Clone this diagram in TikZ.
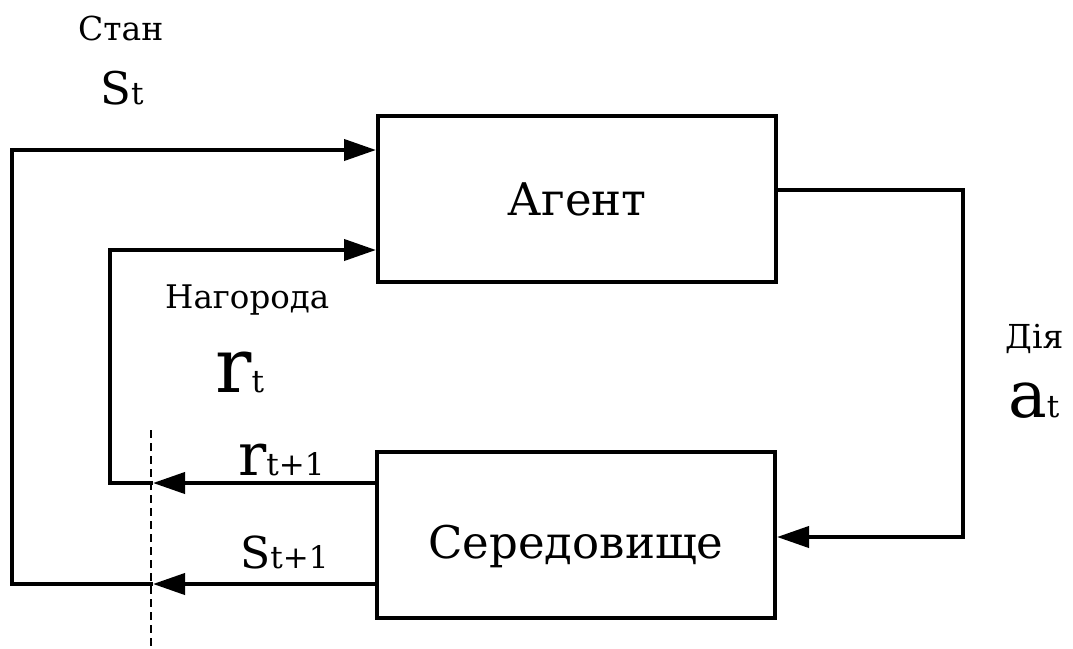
\documentclass[tikz,border=0pt]{standalone}
\usepackage{fontspec}
\setmainfont{DejaVu Serif}
\usetikzlibrary{arrows.meta, positioning, calc}

% letter with a small index set on the same baseline
\newcommand{\symlbl}[3]{{\fontsize{#1}{#1}\selectfont #2}{\fontsize{31}{31}\selectfont #3}}

\tikzset{
  blk/.style={draw=black, line width=4pt, minimum width=398pt, minimum height=166pt,
              inner sep=0pt, text depth=0pt, font=\fontsize{45}{48}\selectfont},
  fl/.style={-{Triangle[length=32pt, width=21pt]}, line width=4pt, draw=black},
  lbl/.style={inner sep=0pt, anchor=base west, font=\fontsize{33}{36}\selectfont},
  cutline/.style={line width=1.2pt, dash pattern=on 8pt off 5pt},
}

\begin{document}
\begin{tikzpicture}[x=1pt, y=-1pt]
  \useasboundingbox (0,0) rectangle (1073,648);

  % the two blocks
  \node[blk] (agent) at (577,199) {Агент};
  \node[blk, text height=47pt] (env) at (576,535) {Середовище};

  % cut points on the dashed line
  \coordinate (cut-top) at (151,430);
  \coordinate (cut-bot) at (151,648);
  \coordinate (r-cut) at (153,483);
  \coordinate (s-cut) at (153,584);
  \draw[cutline] (cut-top) -- (cut-bot);

  % action a_t
  \draw[fl] ([yshift=9pt]agent.east) -- ++(185,0) |- ([yshift=-2pt]env.east);

  % reward r_{t+1}
  \draw[fl] (env.west |- r-cut) -- (r-cut);
  \draw[fl] (r-cut) -- ++(-43,0) |- ([yshift=-51pt]agent.west);

  % state s_{t+1}
  \draw[fl] (env.west |- s-cut) -- (s-cut);
  \draw[fl] (s-cut) -- ++(-141,0) |- ([yshift=49pt]agent.west);

  % labels
  \node[lbl] (stan) at (78,40) {Стан};
  \node[lbl] (st) at (100,104) {\symlbl{45}{S}{t}};
  \node[lbl, font=\fontsize{32.5}{35}\selectfont] (nag) at (165,308) {Нагорода};
  \node[lbl] (rt) at (215,392) {\symlbl{76}{r}{t}};
  \node[lbl] (rt1) at (238,475) {\symlbl{59}{r}{t+1}};
  \node[lbl] (st1) at (240,568) {\symlbl{44}{S}{t+1}};
  \node[lbl] (dia) at (1005,348) {Дія};
  \node[lbl] (at) at (1008,417) {\symlbl{65}{a}{t}};
\end{tikzpicture}
\end{document}
